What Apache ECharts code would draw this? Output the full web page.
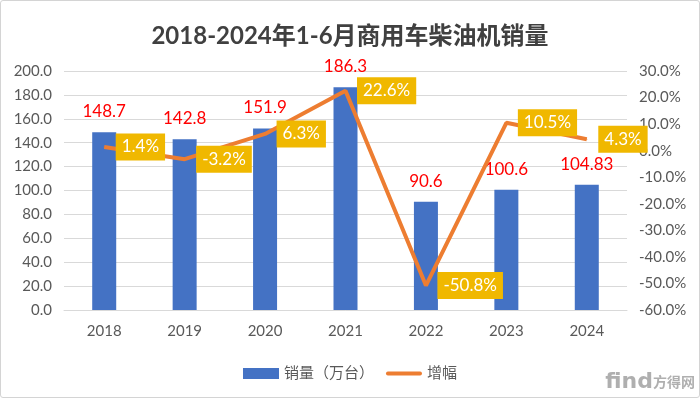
<!DOCTYPE html>
<html>
<head>
<meta charset="utf-8">
<script src="https://cdn.jsdelivr.net/npm/echarts@6/dist/echarts.min.js"></script>
<style>
html,body{margin:0;padding:0;background:#fff;}
#c{width:700px;height:398px;box-sizing:border-box;border:1px solid #d4d4d4;border-radius:3px;}
</style>
</head>
<body>
<div id="c"></div>
<script>
const titleText = '2018-2024年1-6月商用车柴油机销量';
const categories = ['2018', '2019', '2020', '2021', '2022', '2023', '2024'];
const sales = [148.7, 142.8, 151.9, 186.3, 90.6, 100.6, 104.83];
const growth = [1.4, -3.2, 6.3, 22.6, -50.8, 10.5, 4.3];
const seriesNames = ['销量（万台）', '增幅'];

const latin = 'Lato, "Noto Sans CJK SC", sans-serif';
const chart = echarts.init(document.getElementById('c'), null, {renderer: 'canvas'});
chart.setOption({
  backgroundColor: 'transparent',
  animation: false,
  title: {
    text: titleText,
    left: 'center',
    top: 18,
    textStyle: {fontSize: 24, fontWeight: 'bold', color: '#404040', fontFamily: latin}
  },
  legend: {
    data: [
      {name: seriesNames[0], icon: 'rect'},
      {name: seriesNames[1], icon: 'path://M0,0 M36,11 M1,3.5 L35,3.5 A2,2 0 0 1 35,7.5 L1,7.5 A2,2 0 0 1 1,3.5 Z'}
    ],
    symbolKeepAspect: false,
    left: 'center',
    top: 360,
    itemWidth: 36,
    itemHeight: 11,
    itemGap: 12,
    textStyle: {fontSize: 15, color: '#595959', fontFamily: latin}
  },
  grid: {left: 63, right: 72, top: 70, bottom: 87},
  xAxis: {
    type: 'category',
    data: categories,
    axisTick: {show: false},
    axisLine: {lineStyle: {color: '#d9d9d9', width: 1}},
    axisLabel: {fontSize: 15, color: '#595959', margin: 14, fontFamily: latin}
  },
  yAxis: [
    {
      type: 'value', min: 0, max: 200, interval: 20,
      axisLine: {show: false}, axisTick: {show: false},
      axisLabel: {fontSize: 15, color: '#595959', margin: 12, fontFamily: latin,
        formatter: v => v.toFixed(1)},
      splitLine: {lineStyle: {color: '#d9d9d9', width: 1}}
    },
    {
      type: 'value', min: -60, max: 30, interval: 10,
      axisLine: {show: false}, axisTick: {show: false},
      axisLabel: {fontSize: 15, color: '#595959', margin: 12, fontFamily: latin,
        formatter: v => v.toFixed(1) + '%'},
      splitLine: {show: false}
    }
  ],
  series: [
    {
      name: seriesNames[0],
      type: 'bar',
      data: sales,
      barWidth: 24,
      itemStyle: {color: '#4472C4'},
      label: {
        show: true, position: 'top', distance: 12,
        fontSize: 17, color: '#FF0000', fontFamily: latin,
        formatter: p => String(p.value)
      },
      z: 2
    },
    {
      name: seriesNames[1],
      type: 'line',
      yAxisIndex: 1,
      data: growth,
      symbol: 'circle',
      symbolSize: 1,
      itemStyle: {color: '#ED7D31'},
      lineStyle: {color: '#ED7D31', width: 4},
      label: {
        show: true, position: 'right', distance: 11,
        fontSize: 17, color: '#ffffff', fontFamily: latin,
        backgroundColor: '#F0B800',
        padding: [4, 6, 4, 6], lineHeight: 19,
        formatter: p => p.value.toFixed(1) + '%'
      },
      z: 3
    }
  ],
  graphic: [
    {
      type: 'text', right: 4, bottom: 4,
      style: {
        text: '{a|find}{b|方得网}',
        rich: {
          a: {fontSize: 22, fontFamily: 'DejaVu Sans', fontWeight: 'bold', fill: 'rgba(110,110,110,0.55)'},
          b: {fontSize: 14, fontFamily: '"Noto Sans CJK SC"', fontWeight: 'bold', fill: 'rgba(110,110,110,0.55)'}
        }
      }
    }
  ]
});
</script>
</body>
</html>
